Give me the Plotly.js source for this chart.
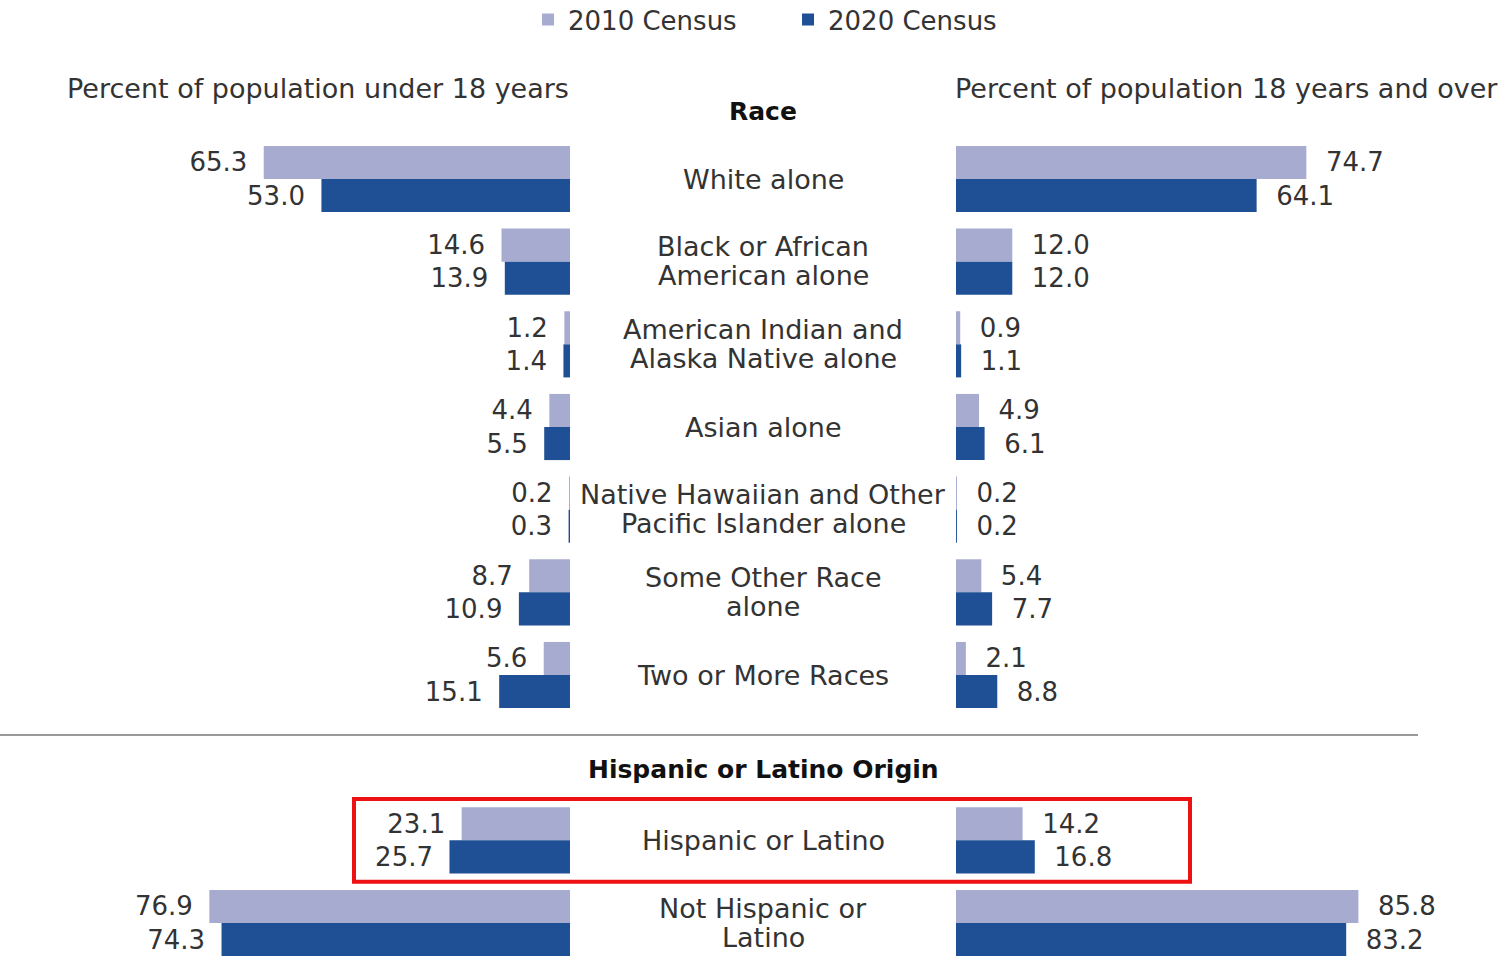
<!DOCTYPE html>
<html>
<head>
<meta charset="utf-8">
<script src="https://cdn.plot.ly/plotly-3.0.1.min.js"></script>
<style>html,body{margin:0;padding:0;background:#fff;}</style>
</head>
<body>
<div id="chart" style="width:1501px;height:957px;"></div>
<script>
// ---- Data ----
const raceCategories = [
  ["White alone"],
  ["Black or African", "American alone"],
  ["American Indian and", "Alaska Native alone"],
  ["Asian alone"],
  ["Native Hawaiian and Other", "Pacific Islander alone"],
  ["Some Other Race", "alone"],
  ["Two or More Races"]
];
const hispCategories = [
  ["Hispanic or Latino"],
  ["Not Hispanic or", "Latino"]
];
const under18_2010_race = [65.3, 14.6, 1.2, 4.4, 0.2, 8.7, 5.6];
const under18_2020_race = [53.0, 13.9, 1.4, 5.5, 0.3, 10.9, 15.1];
const adult_2010_race   = [74.7, 12.0, 0.9, 4.9, 0.2, 5.4, 2.1];
const adult_2020_race   = [64.1, 12.0, 1.1, 6.1, 0.2, 7.7, 8.8];
const under18_2010_hisp = [23.1, 76.9];
const under18_2020_hisp = [25.7, 74.3];
const adult_2010_hisp   = [14.2, 85.8];
const adult_2020_hisp   = [16.8, 83.2];
const seriesNames = ["2010 Census", "2020 Census"];
const leftHeader = "Percent of population under 18 years";
const rightHeader = "Percent of population 18 years and over";
const raceHeader = "Race";
const hispHeader = "Hispanic or Latino Origin";

// ---- Build ----
const FONT = "DejaVu Sans, Open Sans, sans-serif";
const TXT = "#333333";
const C2010 = "#a6abcf";
const C2020 = "#1f4f94";
const FS_LABEL = 27;
const FS_NUM = 26;

// category positions: race rows, one empty slot, hispanic rows
const rowPos = raceCategories.map((_, i) => i)
  .concat(hispCategories.map((_, j) => raceCategories.length + 1 + j));
const allLabels = raceCategories.concat(hispCategories);

const u2010 = under18_2010_race.concat(under18_2010_hisp);
const u2020 = under18_2020_race.concat(under18_2020_hisp);
const a2010 = adult_2010_race.concat(adult_2010_hisp);
const a2020 = adult_2020_race.concat(adult_2020_hisp);

const NB = "\u00a0", THIN = "\u2009";
function barTrace(vals, name, color, xa, showleg, leftSide) {
  return {
    type: "bar", orientation: "h",
    x: vals, y: rowPos, name: name,
    xaxis: xa, yaxis: "y",
    marker: {color: color, line: {width: 0}},
    legendgroup: name, showlegend: showleg,
    text: vals.map(v => v.toFixed(1)),
    texttemplate: leftSide ? "%{text}" + NB + THIN : NB + NB + "%{text}",
    textposition: "outside",
    constraintext: "none",
    cliponaxis: false,
    textfont: {family: FONT, size: FS_NUM, color: TXT},
    hoverinfo: "x+name"
  };
}

const data = [
  barTrace(u2010, seriesNames[0], C2010, "x", true, true),
  barTrace(u2020, seriesNames[1], C2020, "x", true, true),
  barTrace(a2010, seriesNames[0], C2010, "x2", false, false),
  barTrace(a2020, seriesNames[1], C2020, "x2", false, false)
];

const W = 1501, H = 957;
const annotations = [];
const CX = 763 / W;
allLabels.forEach((lines, i) => {
  const n = lines.length;
  lines.forEach((ln, k) => {
    annotations.push({
      xref: "paper", yref: "y", x: CX, y: rowPos[i],
      text: ln, showarrow: false, xanchor: "center", yanchor: "middle",
      yshift: n === 1 ? 0 : (k === 0 ? 15 : -14),
      font: {family: FONT, size: FS_LABEL, color: TXT}
    });
  });
});
annotations.push(
  {xref: "paper", yref: "paper", x: 571 / W, y: 1 - 88 / H, text: leftHeader,
   showarrow: false, xanchor: "right", yanchor: "middle", font: {family: FONT, size: FS_LABEL, color: TXT}},
  {xref: "paper", yref: "paper", x: 953 / W, y: 1 - 88 / H, text: rightHeader,
   showarrow: false, xanchor: "left", yanchor: "middle", font: {family: FONT, size: FS_LABEL, color: TXT}},
  {xref: "paper", yref: "paper", x: CX, y: 1 - 111 / H, text: "<b>" + raceHeader + "</b>",
   showarrow: false, xanchor: "center", yanchor: "middle", font: {family: FONT, size: 25, color: "#111"}},
  {xref: "paper", yref: "paper", x: CX, y: 1 - 769 / H, text: "<b>" + hispHeader + "</b>",
   showarrow: false, xanchor: "center", yanchor: "middle", font: {family: FONT, size: 25, color: "#111"}}
);

const hispIdx = raceCategories.length + 1;
const shapes = [
  {type: "line", xref: "paper", yref: "paper", x0: 0, x1: 1418 / W, y0: 1 - 735 / H, y1: 1 - 735 / H,
   line: {color: "#9a9a9a", width: 2}},
  {type: "rect", xref: "paper", yref: "y", x0: 354 / W, x1: 1190 / W, y0: hispIdx - 0.5, y1: hispIdx + 0.5,
   line: {color: "#ee1111", width: 4}, fillcolor: "rgba(0,0,0,0)"}
];

const PX = 4.69;
const TOP = 179, PITCH = 82.67;
const layout = {
  width: W, height: H,
  margin: {l: 0, r: 0, t: 0, b: 0, pad: 0, autoexpand: false},
  paper_bgcolor: "#ffffff", plot_bgcolor: "#ffffff",
  barmode: "group", bargap: 0.2, bargroupgap: 0,
  font: {family: FONT, size: FS_NUM, color: TXT},
  xaxis: {domain: [0, 570 / W], range: [570 / PX, 0], visible: false, fixedrange: true},
  xaxis2: {domain: [956 / W, 1], range: [0, (W - 956) / PX], visible: false, fixedrange: true, anchor: "y"},
  yaxis: {range: [(H - TOP) / PITCH, -TOP / PITCH], visible: false, fixedrange: true},
  showlegend: true,
  legend: {orientation: "h", x: 0.525, xanchor: "center", y: 1.004, yanchor: "top",
           font: {family: FONT, size: 26, color: TXT}, traceorder: "normal",
           itemwidth: 30, entrywidth: 215, bgcolor: "rgba(0,0,0,0)"},
  annotations: annotations,
  shapes: shapes
};

Plotly.newPlot("chart", data, layout, {displayModeBar: false, staticPlot: true});
</script>
</body>
</html>
